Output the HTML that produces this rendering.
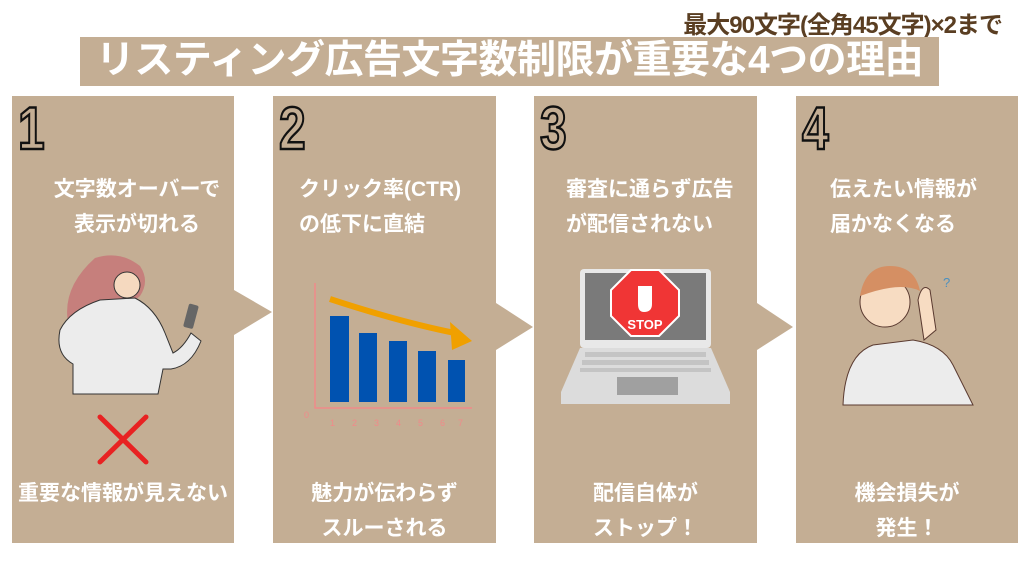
<!DOCTYPE html>
<html><head><meta charset="utf-8"><style>
body{margin:0;width:1024px;height:576px;background:#fff;position:relative;overflow:hidden;font-family:"Liberation Sans","Noto Sans CJK JP",sans-serif}
.a{position:absolute}
.t{position:absolute;color:#fff;font-weight:bold;font-size:21px;text-align:center;line-height:35px;white-space:nowrap}
.n{position:absolute;top:94px;font-size:60px;font-weight:bold;color:#c4ae94;-webkit-text-stroke:2.5px #111;font-family:"Liberation Sans",sans-serif;transform:scaleX(0.8);transform-origin:left}
</style></head><body>
<div class="a" style="right:22px;top:5px;font-size:24px;font-weight:bold;color:#5a3e22;white-space:nowrap;letter-spacing:-1px">最大90文字(全角45文字)×2まで</div>
<div class="a" style="left:80px;top:37px;width:859px;height:49px;background:#c4ae94;"></div>
<div class="a" style="left:60px;top:33px;width:899px;height:56px;color:#fff;font-weight:bold;font-size:39px;line-height:56px;text-align:center;white-space:nowrap;letter-spacing:-0.5px">リスティング広告文字数制限が重要な4つの理由</div>
<svg class="a" style="left:0;top:0" width="1024" height="576">
<g fill="#c4ae94">
<polygon points="12,96 234,96 234,290 272,312 234,335 234,543 12,543"/>
<polygon points="273,96 496,96 496,303 533,327 496,350 496,543 273,543"/>
<polygon points="534,96 757,96 757,303 793,327 757,350 757,543 534,543"/>
<rect x="796" y="96" width="222" height="447"/>
</g>
<path d="M95,258 q25,-8 45,8 q10,15 0,30 q-30,25 -50,40 l-20,-5 q-12,-40 25,-73z" fill="#c67f7c"/>
<path d="M60,330 q10,-20 40,-30 l35,-2 q20,10 30,35 l8,20 q10,-5 18,-20 l10,8 q-10,25 -30,28 l-8,0 l-5,25 l-85,0 l0,-30 q-18,-10 -13,-34z" fill="#ececec" stroke="#333" stroke-width="1"/>
<circle cx="127" cy="285" r="13" fill="#f5d9bf" stroke="#333"/>
<rect x="186" y="304" width="10" height="24" rx="2" fill="#666" transform="rotate(15 190 316)"/>
<path d="M100,417 l46,45 M146,417 l-46,45" stroke="#e82222" stroke-width="5" stroke-linecap="round"/>
<g stroke="#f08a8a" stroke-width="1.5" fill="none"><path d="M315,283 L315,408 L472,408"/></g>
<g fill="#f08a8a" font-size="9"><text x="304" y="418">0</text><text x="330" y="426">1</text><text x="352" y="426">2</text><text x="374" y="426">3</text><text x="396" y="426">4</text><text x="418" y="426">5</text><text x="440" y="426">6</text><text x="458" y="426">7</text></g>
<g fill="#0052b0"><rect x="330" y="316" width="19" height="86"/><rect x="359" y="333" width="18" height="69"/><rect x="389" y="341" width="18" height="61"/><rect x="418" y="351" width="18" height="51"/><rect x="448" y="360" width="17" height="42"/></g>
<path d="M330,299 Q400,322 455,333" stroke="#f0a000" stroke-width="6" fill="none"/>
<polygon points="450,322 472,341 452,350" fill="#f0a000"/>
<rect x="580" y="269" width="131" height="79" rx="4" fill="#e8e8e8"/>
<rect x="585" y="273" width="121" height="67" fill="#7a7a7a"/>
<polygon points="561,392 580,348 711,348 730,392 730,404 561,404" fill="#dcdcdc"/>
<rect x="617" y="377" width="61" height="18" fill="#a0a0a0"/>
<g fill="#c4c4c4"><rect x="585" y="352" width="121" height="5"/><rect x="582" y="360" width="127" height="5"/><rect x="580" y="368" width="131" height="4"/></g>
<polygon points="631,270 659,270 679,290 679,316 659,336 631,336 611,316 611,290" fill="#f03535" stroke="#fff" stroke-width="2"/>
<path d="M638,304 l0,-18 l14,0 l0,18 q0,8 -8,8 q-6,0 -6,-8z" fill="#fff"/>
<text x="645" y="329" fill="#fff" font-size="13" font-weight="bold" text-anchor="middle">STOP</text>
<path d="M843,405 q2,-50 30,-60 l40,-5 q30,5 40,25 l20,40z" fill="#ececec" stroke="#5a3a30"/>
<circle cx="885" cy="302" r="25" fill="#f7dcc2" stroke="#5a3a30"/>
<path d="M860,296 q5,-30 30,-30 q25,0 30,25 q-20,-10 -60,5z" fill="#d58f63"/>
<path d="M918,300 q4,-18 12,-10 l6,40 l-12,10z" fill="#f7dcc2" stroke="#5a3a30"/>
<text x="943" y="287" fill="#4a90c0" font-size="13">?</text>
</svg>
<div class="n" style="left:18px">1</div>
<div class="n" style="left:279px">2</div>
<div class="n" style="left:540px">3</div>
<div class="n" style="left:802px">4</div>
<div class="t" style="left:12px;width:250px;top:172px">文字数オーバーで<br>表示が切れる</div>
<div class="t" style="left:273px;width:190px;top:172px;text-align:left;padding-left:26px">クリック率(CTR)<br>の低下に直結</div>
<div class="t" style="left:534px;width:230px;top:172px;text-align:left;padding-left:32px">審査に通らず広告<br>が配信されない</div>
<div class="t" style="left:796px;width:200px;top:172px;text-align:left;padding-left:34px">伝えたい情報が<br>届かなくなる</div>
<div class="t" style="left:12px;width:222px;top:476px">重要な情報が見えない</div>
<div class="t" style="left:273px;width:223px;top:476px">魅力が伝わらず<br>スルーされる</div>
<div class="t" style="left:534px;width:223px;top:476px">配信自体が<br>ストップ！</div>
<div class="t" style="left:796px;width:222px;top:476px">機会損失が<br>発生！</div>
</body></html>
